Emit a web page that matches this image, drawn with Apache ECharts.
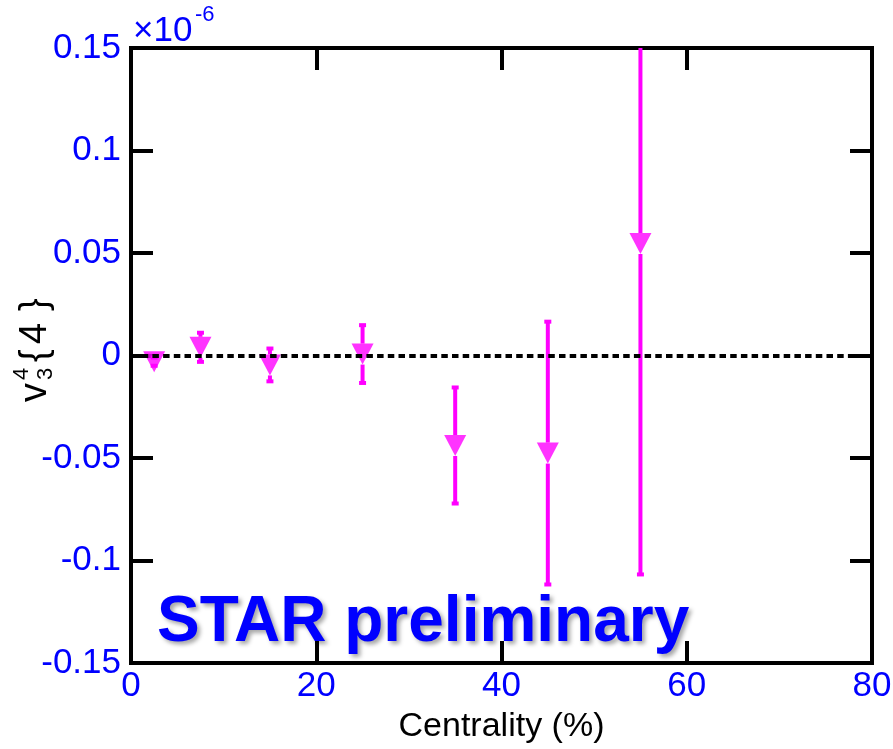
<!DOCTYPE html>
<html>
<head>
<meta charset="utf-8">
<script src="https://cdn.jsdelivr.net/npm/echarts@6/dist/echarts.min.js"></script>
<style>
html,body{margin:0;padding:0;background:#fff;}
#chart{width:893px;height:749px;}
</style>
</head>
<body>
<div id="chart"></div>
<script>
// ---- data (values in units of 1e-6) ----
const centrality = [2.5, 7.5, 15, 25, 35, 45, 55];
const v34 = [-0.003, 0.004, -0.0046, 0.0007, -0.0439, -0.0476, 0.0546];
const v34Err = [0.002, 0.0071, 0.008, 0.0141, 0.0283, 0.0641, 0.1614];
const xTickLabels = ['0', '20', '40', '60', '80'];
const yTickLabels = ['-0.15', '-0.1', '-0.05', '0', '0.05', '0.1', '0.15'];

const FONT = '"Liberation Sans", Arial, Helvetica, sans-serif';
const BLUE = '#0000ff';
const MAG = '#ff00ff';
const X_MIN = 0, X_MAX = 80, X_INT = 20;
const Y_MIN = -0.15, Y_MAX = 0.15, Y_INT = 0.05;

const pts = centrality.map((c, i) => [c, v34[i], v34Err[i]]);

const chart = echarts.init(document.getElementById('chart'));

function xFmt(v) { return xTickLabels[Math.round((v - X_MIN) / X_INT)]; }
function yFmt(v) { return yTickLabels[Math.round((v - Y_MIN) / Y_INT)]; }

const tickStyle = { show: true, inside: true, length: 22, lineStyle: { color: '#000', width: 4 } };
const noLine = { show: false, onZero: false };

const option = {
  animation: false,
  backgroundColor: '#fff',
  grid: { left: 131, right: 21, top: 48, bottom: 86, show: true, borderColor: '#000', borderWidth: 4, containLabel: false, outerBoundsMode: 'none' },
  xAxis: [
    {
      type: 'value', min: X_MIN, max: X_MAX, interval: X_INT, position: 'bottom',
      axisLine: noLine, axisTick: tickStyle, splitLine: { show: false },
      axisLabel: { color: BLUE, fontSize: 35, fontFamily: FONT, margin: 6, formatter: xFmt },
      name: 'Centrality (%)', nameLocation: 'middle', nameGap: 47,
      nameTextStyle: { color: '#000', fontSize: 34, fontFamily: FONT }
    },
    {
      type: 'value', min: X_MIN, max: X_MAX, interval: X_INT, position: 'top',
      axisLine: noLine, axisTick: tickStyle, splitLine: { show: false },
      axisLabel: { show: false }
    }
  ],
  yAxis: [
    {
      type: 'value', min: Y_MIN, max: Y_MAX, interval: Y_INT, position: 'left',
      axisLine: noLine, axisTick: tickStyle, splitLine: { show: false },
      axisLabel: { color: BLUE, fontSize: 35, fontFamily: FONT, margin: 10, formatter: yFmt }
    },
    {
      type: 'value', min: Y_MIN, max: Y_MAX, interval: Y_INT, position: 'right',
      axisLine: noLine, axisTick: tickStyle, splitLine: { show: false },
      axisLabel: { show: false }
    }
  ],
  series: [
    {
      type: 'custom',
      name: 'errors',
      clip: true,
      z: 3,
      data: pts,
      renderItem: function (params, api) {
        const x = api.value(0), y = api.value(1), e = api.value(2);
        const c = api.coord([x, y]);
        const t = api.coord([x, y + e]);
        const b = api.coord([x, y - e]);
        const half = 10.5;
        const children = [];
        const ls = { stroke: MAG, lineWidth: 4 };
        if (t[1] < c[1] - half) {
          children.push({ type: 'line', shape: { x1: c[0], y1: t[1], x2: c[0], y2: c[1] - half }, style: ls });
        }
        if (b[1] > c[1] + half) {
          children.push({ type: 'line', shape: { x1: c[0], y1: c[1] + half, x2: c[0], y2: b[1] }, style: ls });
        }
        children.push({ type: 'rect', shape: { x: c[0] - 3.5, y: t[1] - 2, width: 7, height: 4 }, style: { fill: MAG } });
        children.push({ type: 'rect', shape: { x: c[0] - 3.5, y: b[1] - 2, width: 7, height: 4 }, style: { fill: MAG } });
        return { type: 'group', children: children };
      }
    },
    {
      type: 'scatter',
      name: 'v3{4}',
      z: 4,
      symbol: 'triangle',
      symbolRotate: 180,
      symbolSize: [22, 21],
      itemStyle: { color: MAG },
      data: pts.map(p => [p[0], p[1]]),
      markLine: {
        silent: true,
        symbol: 'none',
        label: { show: false },
        lineStyle: { color: '#000', width: 4, type: [6.5, 4.2] },
        data: [{ yAxis: 0 }]
      }
    }
  ],
  graphic: [
    // x10^-6 exponent
    { type: 'text', left: 133, top: 14, style: { text: '×10', fill: BLUE, font: '35px ' + FONT } },
    { type: 'text', left: 195, top: 4, style: { text: '-6', fill: BLUE, font: '22px ' + FONT } },
    // y-axis title v_3^4{4}
    {
      type: 'group', x: 36, y: 402, rotation: Math.PI / 2,
      children: [
        { type: 'text', x: 0, y: 0, style: { text: 'v', fill: '#000', font: '38px ' + FONT, verticalAlign: 'middle', align: 'left' } },
        { type: 'text', x: 22, y: 10, style: { text: '3', fill: '#000', font: '22px ' + FONT, verticalAlign: 'middle', align: 'left' } },
        { type: 'text', x: 22, y: -14, style: { text: '4', fill: '#000', font: '22px ' + FONT, verticalAlign: 'middle', align: 'left' } },
        { type: 'text', x: 40, y: 0, style: { text: '{', fill: '#000', font: '38px ' + FONT, verticalAlign: 'middle', align: 'left' } },
        { type: 'text', x: 58, y: 0, style: { text: '4', fill: '#000', font: '38px ' + FONT, verticalAlign: 'middle', align: 'left' } },
        { type: 'text', x: 91, y: 0, style: { text: '}', fill: '#000', font: '38px ' + FONT, verticalAlign: 'middle', align: 'left' } }
      ]
    },
    // STAR preliminary
    {
      type: 'text', left: 157, top: 591, z: 10,
      style: {
        text: 'STAR preliminary', fill: BLUE, font: 'bold 64px ' + FONT,
        textShadowColor: 'rgba(0,0,0,0.35)', textShadowBlur: 4, textShadowOffsetX: 3, textShadowOffsetY: 3
      }
    }
  ]
};

chart.setOption(option);
</script>
</body>
</html>
